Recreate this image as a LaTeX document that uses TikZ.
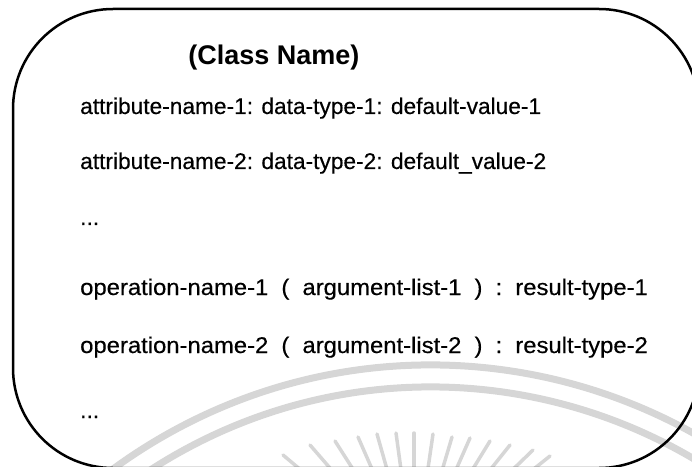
\documentclass[tikz,border=0pt]{standalone}
\usepackage{graphicx}
\usepackage{fontspec}
\setmainfont{Liberation Sans}
\newfontfamily\entryfont[FakeBold=0.4]{Liberation Sans}
\usetikzlibrary{calc}
\definecolor{seal}{RGB}{214,214,214}
% one operation line: name ( arguments ) : result
\newcommand{\opgap}{\hspace{12.5pt}}
\newcommand{\opline}[3]{\scalebox{1.05}[1]{#1\opgap(\opgap#2\opgap)\opgap:\opgap#3}}
\tikzset{
  classbox/.style={draw=black, line width=2.5pt, rounded corners=100pt, fill=none,
    minimum width=686pt, minimum height=459pt, inner sep=0pt},
  entry/.style={anchor=base west, inner sep=0pt, font=\entryfont\fontsize{22.7}{27}\selectfont},
  classtitle/.style={anchor=base, inner sep=0pt, font=\fontsize{27}{31}\selectfont\bfseries},
  sealring/.style={draw=seal, line width=7pt},
  sealray/.style={draw=seal, line width=3.5pt, line cap=round},
}
\begin{document}
\begin{tikzpicture}[x=1pt,y=1pt]
\useasboundingbox (0,0) rectangle (692,466);
\clip (0,0) rectangle (692,466);

% faint seal in the background: two rings and a fan of rays
\coordinate (sealc) at (431,-437);
\coordinate (rayc) at (414,-99);
\draw[sealring] ([shift={(30:538)}]sealc) arc (30:150:538);
\draw[sealring] ([shift={(30:516)}]sealc) arc (30:150:516);
\foreach \x/\y [count=\i] in {283/11, 310/21, 335/25, 358/29, 377/32, 396/33, 414/33,
    433/32, 452/29, 470/28, 490/25, 510/21, 533/16, 550/10} {
  \coordinate (ray\i) at (\x,\y);
  \draw[sealray] (ray\i) -- ($(ray\i)!0.6!(rayc)$);
}

% class box
\node[classbox] (cls) at (356,227.5) {};

% class contents
\node[classtitle] (name) at (274,401) {(Class Name)};
\node[entry] (attr1) at (80,352) {attribute-name-1: data-type-1: default-value-1};
\node[entry] (attr2) at (80,297) {attribute-name-2: data-type-2: default\_value-2};
\node[entry] (more1) at (80,241) {...};
\node[entry] (op1) at (80,171) {\opline{operation-name-1}{argument-list-1}{result-type-1}};
\node[entry] (op2) at (80,113) {\opline{operation-name-2}{argument-list-2}{result-type-2}};
\node[entry] (more2) at (80,48) {...};
\end{tikzpicture}
\end{document}
